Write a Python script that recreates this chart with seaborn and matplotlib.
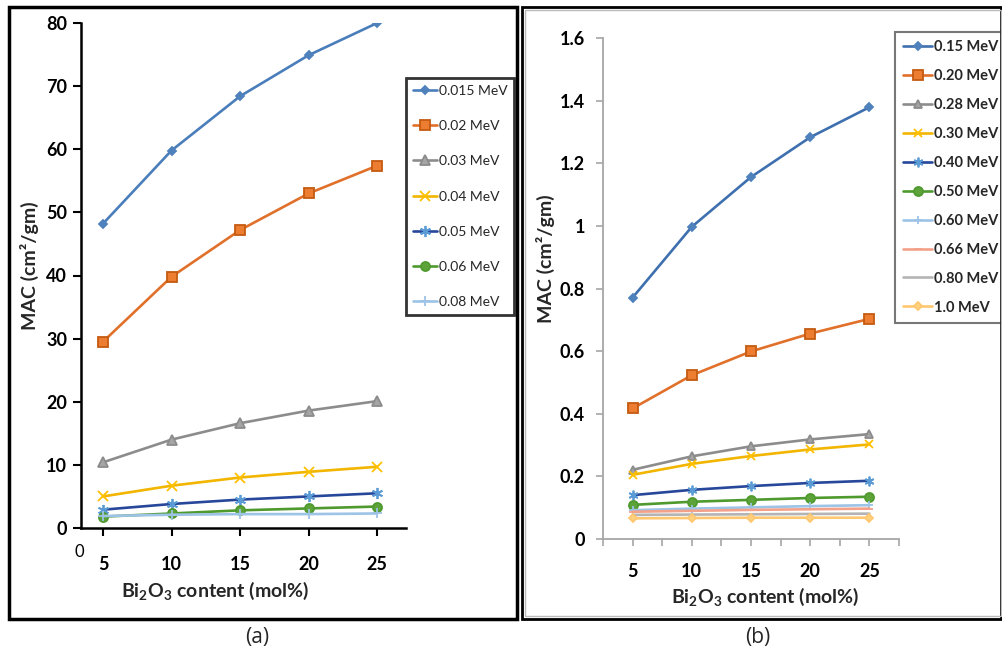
import numpy as np
import pandas as pd
import matplotlib
matplotlib.use("Agg")
import matplotlib.pyplot as plt
from matplotlib.patches import Rectangle
import seaborn as sns

# ---------------- data ----------------
bi2o3 = [5, 10, 15, 20, 25]

labels_a = ["0.015 MeV", "0.02 MeV", "0.03 MeV", "0.04 MeV", "0.05 MeV", "0.06 MeV", "0.08 MeV"]
mac_a_0015 = [48.2, 59.8, 68.4, 74.9, 80.0]
mac_a_002 = [29.5, 39.8, 47.2, 53.0, 57.4]
mac_a_003 = [10.4, 14.0, 16.6, 18.6, 20.1]
mac_a_004 = [5.0, 6.7, 8.0, 8.9, 9.7]
mac_a_005 = [2.9, 3.8, 4.5, 5.0, 5.5]
mac_a_006 = [1.8, 2.3, 2.8, 3.1, 3.4]
mac_a_008 = [1.9, 2.1, 2.2, 2.2, 2.3]

labels_b = ["0.15 MeV", "0.20 MeV", "0.28 MeV", "0.30 MeV", "0.40 MeV",
            "0.50 MeV", "0.60 MeV", "0.66 MeV", "0.80 MeV", "1.0 MeV"]
mac_b_015 = [0.771, 0.997, 1.156, 1.283, 1.379]
mac_b_020 = [0.417, 0.523, 0.599, 0.656, 0.703]
mac_b_028 = [0.221, 0.264, 0.296, 0.318, 0.335]
mac_b_030 = [0.205, 0.240, 0.265, 0.286, 0.302]
mac_b_040 = [0.140, 0.157, 0.169, 0.179, 0.186]
mac_b_050 = [0.109, 0.119, 0.125, 0.131, 0.135]
mac_b_060 = [0.092, 0.097, 0.101, 0.105, 0.108]
mac_b_066 = [0.087, 0.090, 0.093, 0.095, 0.097]
mac_b_080 = [0.077, 0.078, 0.079, 0.080, 0.081]
mac_b_100 = [0.066, 0.067, 0.068, 0.068, 0.068]

yticks_a = [0, 10, 20, 30, 40, 50, 60, 70, 80]
yticks_b = [0, 0.2, 0.4, 0.6, 0.8, 1.0, 1.2, 1.4, 1.6]
ytick_labels_b = ["0", "0.2", "0.4", "0.6", "0.8", "1", "1.2", "1.4", "1.6"]
xticks = [5, 10, 15, 20, 25]

series_a = [mac_a_0015, mac_a_002, mac_a_003, mac_a_004, mac_a_005, mac_a_006, mac_a_008]
series_b = [mac_b_015, mac_b_020, mac_b_028, mac_b_030, mac_b_040,
            mac_b_050, mac_b_060, mac_b_066, mac_b_080, mac_b_100]

# ---------------- styles ----------------
ASTER = (6, 2, 0)
style_a = [
    dict(color="#4A7EBB", marker="D", ms=4.5, mfc="#4F81BD", mec="#4F81BD"),
    dict(color="#E0702A", marker="s", ms=7.5, mfc="#ED7D31", mec="#C55A11"),
    dict(color="#8C8C8C", marker="^", ms=6.5, mfc="#A5A5A5", mec="#8C8C8C"),
    dict(color="#F2B500", marker="x", ms=7, mfc="#FFC000", mec="#FFC000"),
    dict(color="#26479A", marker=ASTER, ms=8, mfc="#5B9BD5", mec="#5B9BD5"),
    dict(color="#4E9A2E", marker="o", ms=6.5, mfc="#5EA33A", mec="#4E9A2E"),
    dict(color="#9DC3E6", marker="+", ms=7, mfc="#9DC3E6", mec="#9DC3E6"),
]
style_b = [
    dict(color="#3E6FAE", marker="D", ms=4.5, mfc="#4F81BD", mec="#4F81BD"),
    dict(color="#E0702A", marker="s", ms=6.5, mfc="#ED7D31", mec="#C55A11"),
    dict(color="#8C8C8C", marker="^", ms=6, mfc="#A5A5A5", mec="#8C8C8C"),
    dict(color="#F2B500", marker="x", ms=6, mfc="#FFC000", mec="#FFC000"),
    dict(color="#26479A", marker=ASTER, ms=7, mfc="#5B9BD5", mec="#5B9BD5"),
    dict(color="#4E9A2E", marker="o", ms=6.5, mfc="#5EA33A", mec="#4E9A2E"),
    dict(color="#9DC3E6", marker="+", ms=6, mfc="#9DC3E6", mec="#9DC3E6"),
    dict(color="#F4A18A", marker="_", ms=6, mfc="#F4A18A", mec="#F4A18A"),
    dict(color="#B4B4B4", marker="", ms=0, mfc="#B4B4B4", mec="#B4B4B4"),
    dict(color="#FFC870", marker="D", ms=4, mfc="#FFD27F", mec="#FFC870"),
]

sns.set_theme(style="white")
plt.rcParams["font.family"] = ["Lato", "DejaVu Sans"]
plt.rcParams["mathtext.fontset"] = "custom"
plt.rcParams["mathtext.rm"] = "Lato:bold"
plt.rcParams["mathtext.it"] = "Lato:bold"
plt.rcParams["mathtext.bf"] = "Lato:bold"

W, H = 1003, 655
fig = plt.figure(figsize=(W / 100, H / 100), dpi=100)
fig.patch.set_facecolor("white")


def px_axes(x0, x1, ytop, ybot):
    return fig.add_axes([x0 / W, 1 - ybot / H, (x1 - x0) / W, (ybot - ytop) / H])


ax_a = px_axes(81, 406, 23, 528)
ax_b = px_axes(603, 899, 38, 539)


def draw(ax, series, labels, styles, lw):
    for vals, lab, st in zip(series, labels, styles):
        df = pd.DataFrame({"x": bi2o3, "y": vals})
        sns.lineplot(data=df, x="x", y="y", ax=ax, color=st["color"], linewidth=lw,
                     marker=st["marker"] if st["marker"] else None,
                     markersize=st["ms"], markerfacecolor=st["mfc"],
                     markeredgecolor=st["mec"], markeredgewidth=1.3,
                     label=lab, legend=False)


draw(ax_a, series_a, labels_a, style_a, 1.9)
draw(ax_b, series_b, labels_b, style_b, 1.9)

# ---------------- axes (a) ----------------
ax_a.set_xlim(3.4, 27.1)
ax_a.set_ylim(0, 80)
ax_a.set_xticks(xticks)
ax_a.set_xticklabels([str(v) for v in xticks], fontweight="bold", fontsize=13)
ax_a.set_yticks(yticks_a)
ax_a.set_yticklabels([str(v) for v in yticks_a], fontweight="bold", fontsize=13)
for s in ["top", "right"]:
    ax_a.spines[s].set_visible(False)
for s in ["left", "bottom"]:
    ax_a.spines[s].set_color("black")
    ax_a.spines[s].set_linewidth(1.8)
ax_a.tick_params(axis="both", direction="out", length=6, width=1.5, color="black",
                 labelcolor="black", bottom=True, left=True)
ax_a.tick_params(axis="x", pad=14)
ax_a.tick_params(axis="y", pad=4)
ax_a.set_xlabel("Bi$_2$O$_3$ content (mol%)", fontsize=14, fontweight="bold")
ax_a.set_ylabel("MAC (cm²/gm)", fontsize=14, fontweight="bold")
ax_a.xaxis.set_label_coords((215 - 81) / 325, (528 - 591) / 505)
ax_a.xaxis.label.set_va("center")
ax_a.yaxis.set_label_coords((29 - 81) / 325, (528 - 266) / 505)
ax_a.yaxis.label.set_va("center")
ax_a.grid(False)
fig.text(79 / W, 1 - 552 / H, "0", fontsize=12, ha="center", va="center", color="black")

leg_a = ax_a.legend(loc="upper left", bbox_to_anchor=(406 / W, 1 - 78 / H),
                    bbox_transform=fig.transFigure, fontsize=10, frameon=True,
                    fancybox=False, edgecolor="black", labelspacing=1.67,
                    handlelength=1.75, handletextpad=0.1, borderpad=0.5,
                    borderaxespad=0)
leg_a.get_frame().set_linewidth(2.0)

# ---------------- axes (b) ----------------
ax_b.set_xlim(2.5, 27.5)
ax_b.set_ylim(0, 1.6)
ax_b.set_xticks(xticks)
ax_b.set_xticks([2.5, 7.5, 12.5, 17.5, 22.5, 27.5], minor=True)
ax_b.set_xticklabels([str(v) for v in xticks], fontweight="bold", fontsize=13)
ax_b.set_yticks(yticks_b)
ax_b.set_yticklabels(ytick_labels_b, fontweight="bold", fontsize=13)
for s in ["top", "right"]:
    ax_b.spines[s].set_visible(False)
for s in ["left", "bottom"]:
    ax_b.spines[s].set_color("#A6A6A6")
    ax_b.spines[s].set_linewidth(1.3)
ax_b.tick_params(axis="both", which="both", direction="out", length=5, width=1.2,
                 color="#A6A6A6", labelcolor="black", bottom=True, left=True)
ax_b.tick_params(axis="x", which="major", pad=12)
ax_b.tick_params(axis="y", pad=8)
ax_b.set_xlabel("Bi$_2$O$_3$ content (mol%)", fontsize=14, fontweight="bold")
ax_b.set_ylabel("MAC (cm²/gm)", fontsize=14, fontweight="bold")
ax_b.xaxis.set_label_coords((765 - 603) / 296, (539 - 597) / 501)
ax_b.xaxis.label.set_va("center")
ax_b.yaxis.set_label_coords((545 - 603) / 296, (539 - 259) / 501)
ax_b.yaxis.label.set_va("center")
ax_b.grid(False)

leg_b = ax_b.legend(loc="upper left", bbox_to_anchor=(895 / W, 1 - 32 / H),
                    bbox_transform=fig.transFigure, frameon=True,
                    fancybox=False, edgecolor="#555555", labelspacing=1.025,
                    handlelength=2.0, handletextpad=0.15, borderpad=0.55,
                    borderaxespad=0, prop={"weight": "bold", "size": 10.5})
leg_b.get_frame().set_linewidth(1.5)

# ---------------- panel frames & captions ----------------
fig.add_artist(Rectangle((9 / W, 1 - 619 / H), (517 - 9) / W, (619 - 7) / H,
                         transform=fig.transFigure, fill=False, edgecolor="black",
                         linewidth=2.5))
fig.add_artist(Rectangle((522 / W, 1 - 619 / H), (1001 - 522) / W, (619 - 7) / H,
                         transform=fig.transFigure, fill=False, edgecolor="black",
                         linewidth=2.0))
fig.add_artist(Rectangle((525 / W, 1 - 616 / H), (1001 - 525) / W, (616 - 10) / H,
                         transform=fig.transFigure, fill=False, edgecolor="#BBBBBB",
                         linewidth=1.0))
fig.text(257 / W, 1 - 638 / H, "(a)", fontsize=15, ha="center", va="center",
         family=["Open Sans", "DejaVu Sans"])
fig.text(758 / W, 1 - 638 / H, "(b)", fontsize=15, ha="center", va="center",
         family=["Open Sans", "DejaVu Sans"])

fig.savefig("out.png", dpi=100, facecolor="white")
